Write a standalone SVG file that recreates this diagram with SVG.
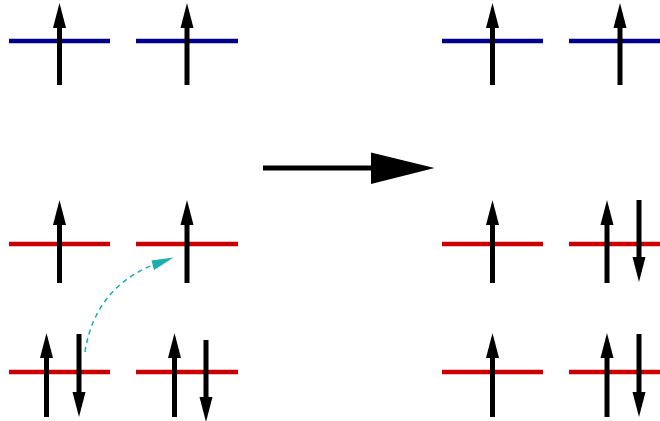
<svg xmlns="http://www.w3.org/2000/svg" width="660" height="421" viewBox="0 0 660 421">
<style>
.blue{stroke:#00008b;stroke-width:4.5;fill:none}
.red{stroke:#cc0000;stroke-width:4.5;fill:none}
.shaft{stroke:#000;stroke-width:5;fill:none}
.head{fill:#000;stroke:none}
.jump{stroke:#1aafaf;stroke-width:1.5;stroke-dasharray:5,4;fill:none}
</style>
<defs>
<polygon id="hu" class="head" points="0,0 -6.5,25 6.5,25"/>
<polygon id="hd" class="head" points="0,0 -6.5,-25 6.5,-25"/>
</defs>
<rect width="660" height="421" fill="#fff"/>
<g id="left-top">
<line class="blue" x1="9" y1="41" x2="110" y2="41"/>
<line class="shaft" x1="59.5" y1="27" x2="59.5" y2="85"/><use href="#hu" x="59.5" y="3"/>
<line class="blue" x1="136" y1="41" x2="238" y2="41"/>
<line class="shaft" x1="187" y1="27" x2="187" y2="85"/><use href="#hu" x="187" y="3"/>
</g>
<g id="left-mid">
<line class="red" x1="9" y1="244" x2="110" y2="244"/>
<line class="shaft" x1="59.5" y1="224" x2="59.5" y2="283"/><use href="#hu" x="59.5" y="200"/>
<line class="red" x1="136" y1="244" x2="238" y2="244"/>
<line class="shaft" x1="187" y1="224" x2="187" y2="283"/><use href="#hu" x="187" y="200"/>
</g>
<g id="left-bot">
<line class="red" x1="9" y1="372" x2="110" y2="372"/>
<line class="shaft" x1="46.5" y1="357" x2="46.5" y2="417"/><use href="#hu" x="46.5" y="333"/>
<line class="shaft" x1="79" y1="334" x2="79" y2="393"/><use href="#hd" x="79" y="417"/>
<line class="red" x1="136" y1="372" x2="238" y2="372"/>
<line class="shaft" x1="174.5" y1="357" x2="174.5" y2="417"/><use href="#hu" x="174.5" y="333"/>
<line class="shaft" x1="206" y1="340" x2="206" y2="398"/><use href="#hd" x="206" y="422"/>
</g>
<g id="right-top">
<line class="blue" x1="442" y1="41" x2="543" y2="41"/>
<line class="shaft" x1="492.5" y1="27" x2="492.5" y2="85"/><use href="#hu" x="492.5" y="3"/>
<line class="blue" x1="569" y1="41" x2="660" y2="41"/>
<line class="shaft" x1="620" y1="27" x2="620" y2="85"/><use href="#hu" x="620" y="3"/>
</g>
<g id="right-mid">
<line class="red" x1="442" y1="244" x2="543" y2="244"/>
<line class="shaft" x1="492.5" y1="224" x2="492.5" y2="283"/><use href="#hu" x="492.5" y="200"/>
<line class="red" x1="569" y1="244" x2="660" y2="244"/>
<line class="shaft" x1="607" y1="224" x2="607" y2="283"/><use href="#hu" x="607" y="200"/>
<line class="shaft" x1="639" y1="200" x2="639" y2="258"/><use href="#hd" x="639" y="282"/>
</g>
<g id="right-bot">
<line class="red" x1="442" y1="372" x2="543" y2="372"/>
<line class="shaft" x1="492.5" y1="357" x2="492.5" y2="417"/><use href="#hu" x="492.5" y="333"/>
<line class="red" x1="569" y1="372" x2="660" y2="372"/>
<line class="shaft" x1="607" y1="357" x2="607" y2="417"/><use href="#hu" x="607" y="333"/>
<line class="shaft" x1="639" y1="334" x2="639" y2="393"/><use href="#hd" x="639" y="417"/>
</g>
<g id="connectors">
<line x1="263" y1="168" x2="373" y2="168" stroke="#000" stroke-width="5"/>
<polygon points="371,152.5 434.5,168 371,184" fill="#000"/>
<path class="jump" d="M85,352 C92,305 120,278 153,265"/>
<polygon points="173.5,257.5 151.5,260.5 154,270" fill="#1aafaf"/>
</g>
</svg>
